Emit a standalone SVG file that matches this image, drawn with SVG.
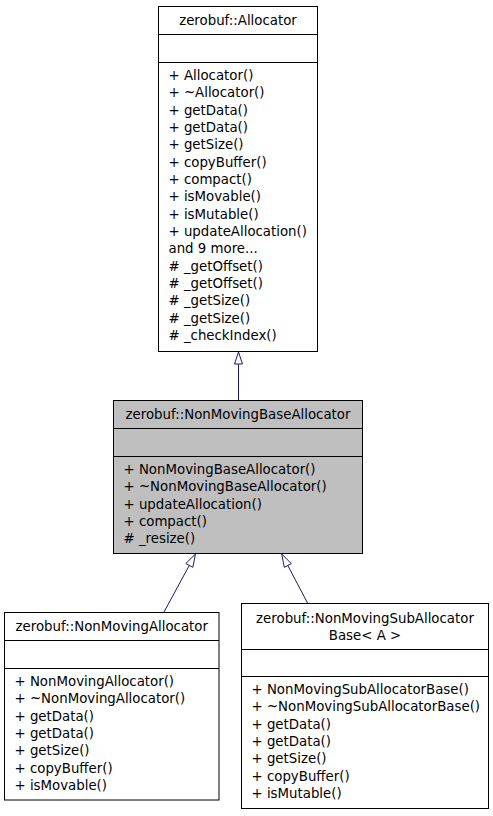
<svg xmlns="http://www.w3.org/2000/svg" width="493" height="816" viewBox="0 0 493 816">
<style>
text{font-family:"DejaVu Sans","Liberation Sans",sans-serif;font-size:13.33px;fill:#000}
.t{text-anchor:middle}
.box{fill:#fff;stroke:#000;stroke-width:1}
.cur{fill:#bfbfbf;stroke:#000;stroke-width:1}
.sep{stroke:#000;stroke-width:1}
.edge{fill:none;stroke:#191970;stroke-width:1}
.head{fill:#fff;stroke:#191970;stroke-width:1}
</style>
<rect width="493" height="816" fill="#fff"/>
<g id="connectors">
<path class="edge" d="M238.5,400.5 L238.5,364"/>
<polygon class="head" points="238.5,352 234.5,364 242.5,364"/>
<path class="edge" d="M164,612 L189.3,565.4"/>
<polygon class="head" points="195.5,554 192.8,567.3 185.8,563.5"/>
<path class="edge" d="M307.7,603.3 L287.8,565.5"/>
<polygon class="head" points="281.7,554 291.3,563.6 284.3,567.4"/>
</g>
<g id="allocator">
<rect class="box" x="158.5" y="6.5" width="159" height="345"/>
<line class="sep" x1="158.5" y1="34.5" x2="317.5" y2="34.5"/>
<line class="sep" x1="158.5" y1="62.5" x2="317.5" y2="62.5"/>
<text class="t" x="238" y="25.3">zerobuf::Allocator</text>
<text x="168.5" y="79.8">+ Allocator()</text>
<text x="168.5" y="97.1">+ ~Allocator()</text>
<text x="168.5" y="114.5">+ getData()</text>
<text x="168.5" y="131.8">+ getData()</text>
<text x="168.5" y="149.1">+ getSize()</text>
<text x="168.5" y="166.5">+ copyBuffer()</text>
<text x="168.5" y="183.8">+ compact()</text>
<text x="168.5" y="201.1">+ isMovable()</text>
<text x="168.5" y="218.5">+ isMutable()</text>
<text x="168.5" y="235.8">+ updateAllocation()</text>
<text x="168.5" y="253.1">and 9 more...</text>
<text x="168.5" y="270.5"># _getOffset()</text>
<text x="168.5" y="287.8"># _getOffset()</text>
<text x="168.5" y="305.1"># _getSize()</text>
<text x="168.5" y="322.5"># _getSize()</text>
<text x="168.5" y="339.8"># _checkIndex()</text>
</g>
<g id="nonmovingbaseallocator">
<rect class="cur" x="113.5" y="400.5" width="249" height="153"/>
<line class="sep" x1="113.5" y1="428.5" x2="362.5" y2="428.5"/>
<line class="sep" x1="113.5" y1="456.5" x2="362.5" y2="456.5"/>
<text class="t" x="238" y="419.3">zerobuf::NonMovingBaseAllocator</text>
<text x="123.5" y="473.8">+ NonMovingBaseAllocator()</text>
<text x="123.5" y="491.1">+ ~NonMovingBaseAllocator()</text>
<text x="123.5" y="508.5">+ updateAllocation()</text>
<text x="123.5" y="525.8">+ compact()</text>
<text x="123.5" y="543.1"># _resize()</text>
</g>
<g id="nonmovingallocator">
<rect class="box" x="4.5" y="612.5" width="214.5" height="187.5"/>
<line class="sep" x1="4.5" y1="640.5" x2="219" y2="640.5"/>
<line class="sep" x1="4.5" y1="668.5" x2="219" y2="668.5"/>
<text class="t" x="111.75" y="631.3">zerobuf::NonMovingAllocator</text>
<text x="14.5" y="685.8">+ NonMovingAllocator()</text>
<text x="14.5" y="703.1">+ ~NonMovingAllocator()</text>
<text x="14.5" y="720.5">+ getData()</text>
<text x="14.5" y="737.8">+ getData()</text>
<text x="14.5" y="755.1">+ getSize()</text>
<text x="14.5" y="772.5">+ copyBuffer()</text>
<text x="14.5" y="789.8">+ isMovable()</text>
</g>
<g id="nonmovingsuballocatorbase">
<rect class="box" x="241.5" y="603.5" width="247" height="205"/>
<line class="sep" x1="241.5" y1="649.5" x2="488.5" y2="649.5"/>
<line class="sep" x1="241.5" y1="676.5" x2="488.5" y2="676.5"/>
<text class="t" x="365" y="622.8">zerobuf::NonMovingSubAllocator</text>
<text class="t" x="365" y="640">Base&lt; A &gt;</text>
<text x="251.5" y="693.8">+ NonMovingSubAllocatorBase()</text>
<text x="251.5" y="711.1">+ ~NonMovingSubAllocatorBase()</text>
<text x="251.5" y="728.5">+ getData()</text>
<text x="251.5" y="745.8">+ getData()</text>
<text x="251.5" y="763.1">+ getSize()</text>
<text x="251.5" y="780.5">+ copyBuffer()</text>
<text x="251.5" y="797.8">+ isMutable()</text>
</g>
</svg>
